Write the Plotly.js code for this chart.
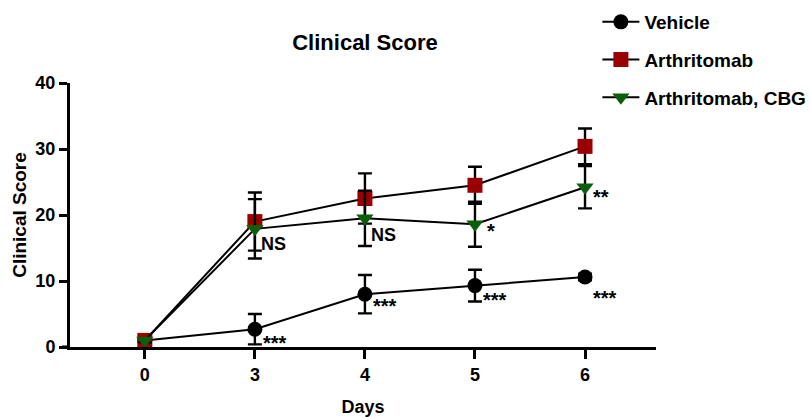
<!DOCTYPE html>
<html><head><meta charset="utf-8">
<script src="https://cdn.plot.ly/plotly-3.0.1.min.js"></script>
<style>body{margin:0;background:#fff}#chart{width:810px;height:417px}</style>
</head><body><div id="chart"></div>
<script>
const days = ['0','3','4','5','6'];
const vehicle = [1.0, 2.7, 8.0, 9.3, 10.6];
const vehicleErr = [0.3, 2.3, 2.9, 2.4, 0.5];
const arthritomab = [1.0, 19.0, 22.5, 24.5, 30.4];
const arthritomabErr = [0.3, 4.4, 3.8, 2.8, 2.7];
const arthCBG = [1.0, 17.9, 19.5, 18.6, 24.2];
const arthCBGErr = [0.3, 4.5, 4.2, 3.4, 3.2];
const annDays = ['3','4','5','6','3','4','5','6'];
const annY = [15.6, 17.0, 17.6, 22.7, 0.6, 6.2, 7.1, 7.5];
const annText = ['NS','NS','*','**','***','***','***','***'];

const F = 'Liberation Sans, Arial, sans-serif';
function tr(name, y, err, color, symbol, grp){
  return {x: days, y: y, name: name, type:'scatter', mode:'lines+markers',
    legendgroup: grp,
    line:{color:'#000', width:2},
    marker:{color:color, symbol:symbol, size:15, line:{width:0}},
    error_y:{type:'data', array:err, visible:true, color:'#000', thickness:2.4, width:7}};
}
const data = [
  tr('Vehicle', vehicle, vehicleErr, '#000000', 'circle', 'a'),
  tr('Arthritomab', arthritomab, arthritomabErr, '#9b0000', 'square', 'b'),
  tr('Arthritomab, CBG', arthCBG, arthCBGErr, '#0b5e0b', 'triangle-down', 'c')
];
const annotations = annText.map((t,i)=>({x: days.indexOf(annDays[i]), y: annY[i], text: t, showarrow:false,
  xanchor:'left', yanchor:'middle', xshift: t==='NS'?4:(t==='*'?10:6),
  font:{family:F, size: t==='NS'?18:20, color:'#000', weight:'bold'}}));
const layout = {
  width:810, height:417,
  margin:{l:70, r:154, t:83, b:70, autoexpand:false},
  paper_bgcolor:'#fff', plot_bgcolor:'#fff',
  font:{family:F, color:'#000'},
  title:{text:'<b>Clinical Score</b>', x:(365)/810, xanchor:'center', y:1-42/417, yanchor:'middle',
    font:{family:F, size:22, color:'#000'}},
  xaxis:{type:'category', range:[-0.68, 4.645], showgrid:false, zeroline:false,
    showline:true, linecolor:'#000', linewidth:3, ticks:'outside', ticklen:9, tickwidth:3, tickcolor:'#000',
    tickfont:{family:F, size:18, color:'#000', weight:'bold'},
    title:{text:'<b>Days</b>', font:{family:F, size:18, color:'#000'}, standoff:21}},
  yaxis:{range:[0,40], showgrid:false, zeroline:false, tickvals:[0,10,20,30,40],
    showline:true, linecolor:'#000', linewidth:3, ticks:'outside', ticklen:8, tickwidth:3, tickcolor:'#000',
    tickfont:{family:F, size:18, color:'#000', weight:'bold'},
    title:{text:'<b>Clinical Score</b>', font:{family:F, size:19, color:'#000'}, standoff:4}},
  legend:{x:0.9, xanchor:'left', y:1.303, yanchor:'top', traceorder:'grouped', tracegroupgap:10, itemwidth:37,
    font:{family:F, size:19, color:'#000', weight:'bold'}, bgcolor:'rgba(0,0,0,0)'},
  shapes:[{type:'line', xref:'paper', yref:'y', x0:-8/586, x1:0, y0:0, y1:0, line:{color:'#000', width:3}}],
  annotations: annotations,
  showlegend:true
};
Plotly.newPlot('chart', data, layout, {displayModeBar:false, staticPlot:true});
</script>
</body></html>
